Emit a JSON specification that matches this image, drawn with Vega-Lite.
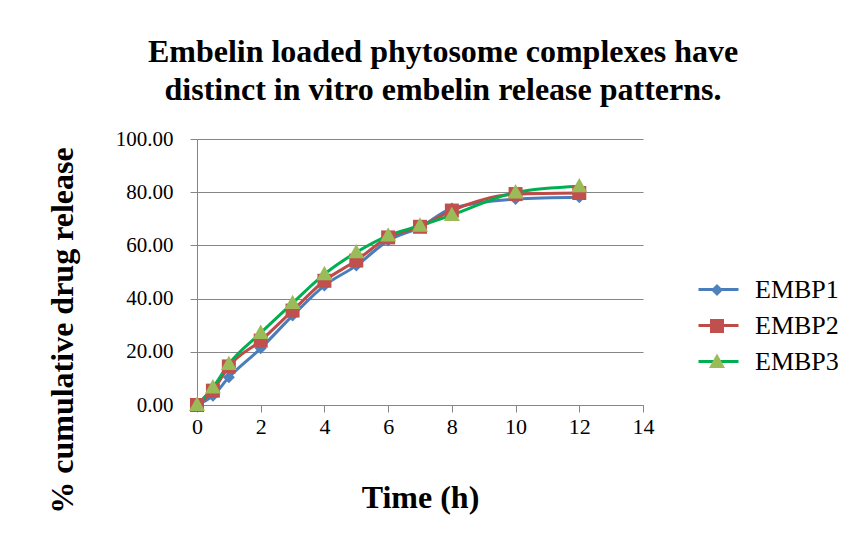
{
  "$schema": "https://vega.github.io/schema/vega-lite/v6.json",
  "width": 446,
  "height": 266,
  "autosize": {"type": "none"},
  "padding": {"left": 197, "top": 139, "right": 211, "bottom": 139},
  "background": "white",
  "title": {
    "text": ["Embelin loaded phytosome complexes have", "distinct in vitro embelin release patterns."],
    "font": "Liberation Serif",
    "fontSize": 32,
    "fontWeight": "bold",
    "color": "black",
    "anchor": "middle",
    "frame": "group",
    "dx": 23,
    "offset": 21,
    "lineHeight": 38
  },
  "config": {
    "view": {"stroke": null},
    "font": "Liberation Serif"
  },
  "data": {
    "values": [
      {"time": 0, "release": 0, "series": "EMBP1"},
      {"time": 0.5, "release": 3.5, "series": "EMBP1"},
      {"time": 1, "release": 10.4, "series": "EMBP1"},
      {"time": 2, "release": 21.3, "series": "EMBP1"},
      {"time": 3, "release": 33.6, "series": "EMBP1"},
      {"time": 4, "release": 44.9, "series": "EMBP1"},
      {"time": 5, "release": 52.4, "series": "EMBP1"},
      {"time": 6, "release": 61.8, "series": "EMBP1"},
      {"time": 7, "release": 66.8, "series": "EMBP1"},
      {"time": 8, "release": 73.9, "series": "EMBP1"},
      {"time": 10, "release": 77.4, "series": "EMBP1"},
      {"time": 12, "release": 78.1, "series": "EMBP1"},
      {"time": 0, "release": 0, "series": "EMBP2"},
      {"time": 0.5, "release": 5.4, "series": "EMBP2"},
      {"time": 1, "release": 14.5, "series": "EMBP2"},
      {"time": 2, "release": 24.2, "series": "EMBP2"},
      {"time": 3, "release": 35.5, "series": "EMBP2"},
      {"time": 4, "release": 46.7, "series": "EMBP2"},
      {"time": 5, "release": 54.3, "series": "EMBP2"},
      {"time": 6, "release": 63.0, "series": "EMBP2"},
      {"time": 7, "release": 67.0, "series": "EMBP2"},
      {"time": 8, "release": 73.1, "series": "EMBP2"},
      {"time": 10, "release": 79.3, "series": "EMBP2"},
      {"time": 12, "release": 79.7, "series": "EMBP2"},
      {"time": 0, "release": 0, "series": "EMBP3"},
      {"time": 0.5, "release": 6.6, "series": "EMBP3"},
      {"time": 1, "release": 15.4, "series": "EMBP3"},
      {"time": 2, "release": 27.1, "series": "EMBP3"},
      {"time": 3, "release": 38.3, "series": "EMBP3"},
      {"time": 4, "release": 49.2, "series": "EMBP3"},
      {"time": 5, "release": 57.4, "series": "EMBP3"},
      {"time": 6, "release": 63.7, "series": "EMBP3"},
      {"time": 7, "release": 67.4, "series": "EMBP3"},
      {"time": 8, "release": 71.4, "series": "EMBP3"},
      {"time": 10, "release": 79.9, "series": "EMBP3"},
      {"time": 12, "release": 82.2, "series": "EMBP3"}
    ]
  },
  "encoding": {
    "x": {
      "field": "time",
      "type": "quantitative",
      "scale": {"domain": [0, 14], "nice": false},
      "axis": {
        "values": [0, 2, 4, 6, 8, 10, 12, 14],
        "format": "d",
        "labelFlush": false,
        "title": "Time (h)",
        "titleFont": "Liberation Serif",
        "titleFontSize": 32,
        "titleFontWeight": "bold",
        "titleColor": "black",
        "titleBaseline": "middle",
        "titleY": 92,
        "labelFont": "Liberation Serif",
        "labelFontSize": 22,
        "labelColor": "black",
        "labelPadding": 4,
        "tickSize": 7,
        "tickColor": "#868686",
        "domainColor": "#868686",
        "grid": false
      }
    },
    "y": {
      "field": "release",
      "type": "quantitative",
      "scale": {"domain": [0, 100], "nice": false},
      "axis": {
        "values": [0, 20, 40, 60, 80, 100],
        "format": ".2f",
        "labelFlush": false,
        "title": "% cumulative drug release",
        "titleFont": "Liberation Serif",
        "titleFontSize": 32,
        "titleFontWeight": "bold",
        "titleColor": "black",
        "titleAngle": -90,
        "titleAlign": "center",
        "titleBaseline": "middle",
        "titleX": -135,
        "titleY": 191,
        "labelFont": "Liberation Serif",
        "labelFontSize": 21,
        "labelColor": "black",
        "labelPadding": 17,
        "tickSize": 7,
        "tickColor": "#868686",
        "domainColor": "#868686",
        "grid": true,
        "gridColor": "#868686",
        "gridWidth": 1
      }
    }
  },
  "layer": [
    {
      "mark": {"type": "line", "interpolate": "monotone", "strokeWidth": 3},
      "encoding": {
        "detail": {"field": "series"},
        "stroke": {
          "field": "series",
          "type": "nominal",
          "scale": {"domain": ["EMBP1", "EMBP2", "EMBP3"], "range": ["#4A7EBB", "#BE4B48", "#00B050"]},
          "legend": {
            "orient": "none",
            "legendX": 500,
            "legendY": 129,
            "title": null,
            "symbolType": "stroke",
            "symbolSize": 1600,
            "symbolStrokeWidth": 3,
            "labelExpr": "''",
            "labelFontSize": 1,
            "labelOffset": 0,
            "rowPadding": 8
          }
        }
      }
    },
    {
      "mark": {"type": "point", "filled": true, "opacity": 1, "size": 1600},
      "encoding": {
        "fill": {
          "field": "series",
          "type": "nominal",
          "scale": {"range": ["#4F81BD", "#C0504D", "#9BBB59"]},
          "legend": {
            "orient": "none",
            "legendX": 500,
            "legendY": 131,
            "title": null,
            "symbolSize": 1600,
            "symbolOpacity": 1,
            "symbolStrokeWidth": 0,
            "labelFont": "Liberation Serif",
            "labelFontSize": 26,
            "labelColor": "black",
            "labelOffset": 18,
            "rowPadding": 3,
            "labelLimit": 300
          }
        },
        "shape": {
          "field": "series",
          "type": "nominal",
          "scale": {"range": [
            "M0,-0.3L0.3,0L0,0.3L-0.3,0Z",
            "M-0.35,-0.35H0.35V0.35H-0.35Z",
            "M0,-0.42L0.4,0.3H-0.4Z"
          ]}
        }
      }
    }
  ]
}
